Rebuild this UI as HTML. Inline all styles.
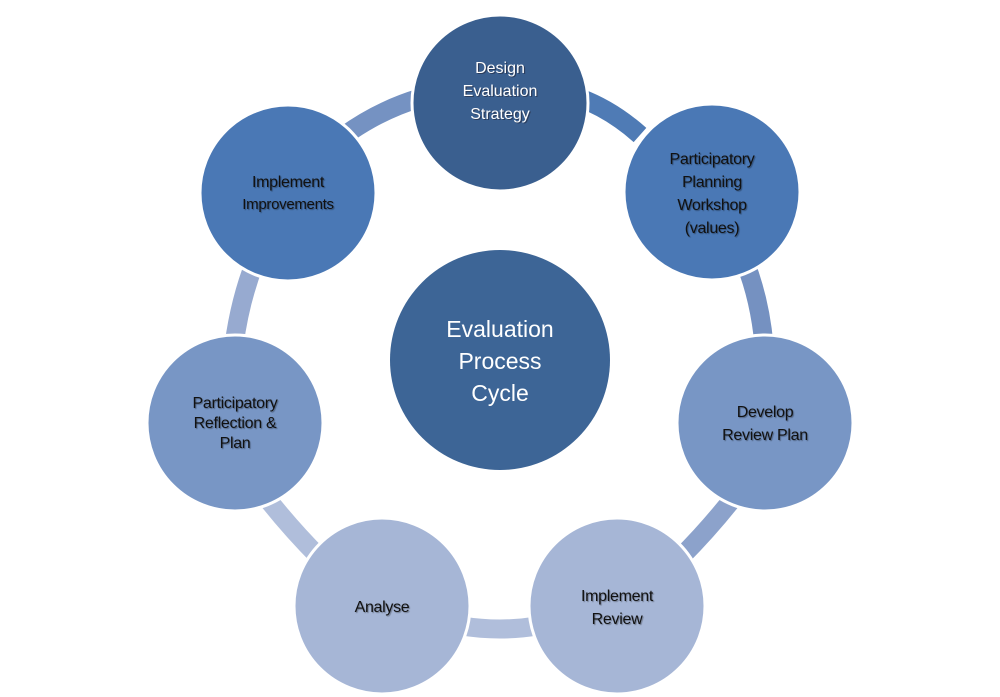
<!DOCTYPE html>
<html><head><meta charset="utf-8"><style>
html,body{margin:0;padding:0;background:#fff;}
svg{display:block;}
text{font-family:"Liberation Sans",sans-serif;text-anchor:middle;}
</style></head><body>
<svg width="1000" height="697" viewBox="0 0 1000 697" xmlns="http://www.w3.org/2000/svg">
<g fill="none" stroke-width="19">
<path d="M580,98 Q612,110 640,135" stroke="#4f7bb5"/>
<path d="M745,262 Q760,300 764,345" stroke="#7591c1"/>
<path d="M738,492 Q711,527 680,558" stroke="#8ca2cb"/>
<path d="M462,626 Q500,632 537,626" stroke="#b0bedb"/>
<path d="M262,492 Q289,527 320,558" stroke="#b0bedb"/>
<path d="M234,345 Q240,300 255,262" stroke="#97aad0"/>
<path d="M345,135 Q380,110 420,98" stroke="#7592c2"/>
</g>
<g stroke="#fff" stroke-width="3">
<circle cx="500" cy="103" r="88" fill="#3a5f8f"/>
<circle cx="712" cy="192" r="88" fill="#4a78b5"/>
<circle cx="765" cy="423" r="88" fill="#7896c5"/>
<circle cx="617" cy="606" r="88" fill="#a6b6d6"/>
<circle cx="382" cy="606" r="88" fill="#a6b6d6"/>
<circle cx="235" cy="423" r="88" fill="#7896c5"/>
<circle cx="288" cy="193" r="88" fill="#4a78b5"/>
</g>
<circle cx="500" cy="360" r="110" fill="#3d6596"/>
<g font-size="16" fill="#223" opacity="0.55" transform="translate(1.2,1.2)">
<text x="500" y="73">Design</text>
<text x="500" y="96">Evaluation</text>
<text x="500" y="119">Strategy</text>
</g>
<g font-size="16" fill="#fff">
<text x="500" y="73">Design</text>
<text x="500" y="96">Evaluation</text>
<text x="500" y="119">Strategy</text>
</g>
<g font-size="23" fill="#fff">
<text x="500" y="337">Evaluation</text>
<text x="500" y="369">Process</text>
<text x="500" y="401">Cycle</text>
</g>
<g font-size="16" fill="#111" style="text-shadow:1px 1px 1px rgba(0,0,0,0.35)" letter-spacing="-0.3">
<text x="712" y="164">Participatory</text>
<text x="712" y="187">Planning</text>
<text x="712" y="210">Workshop</text>
<text x="712" y="233">(values)</text>
<text x="765" y="417">Develop</text>
<text x="765" y="440">Review Plan</text>
<text x="617" y="601">Implement</text>
<text x="617" y="624">Review</text>
<text x="382" y="612">Analyse</text>
<text x="235" y="408">Participatory</text>
<text x="235" y="428">Reflection &amp;</text>
<text x="235" y="448">Plan</text>
<text x="288" y="187">Implement</text>
<text x="288" y="209" font-size="15">Improvements</text>
</g>
</svg>
</body></html>
